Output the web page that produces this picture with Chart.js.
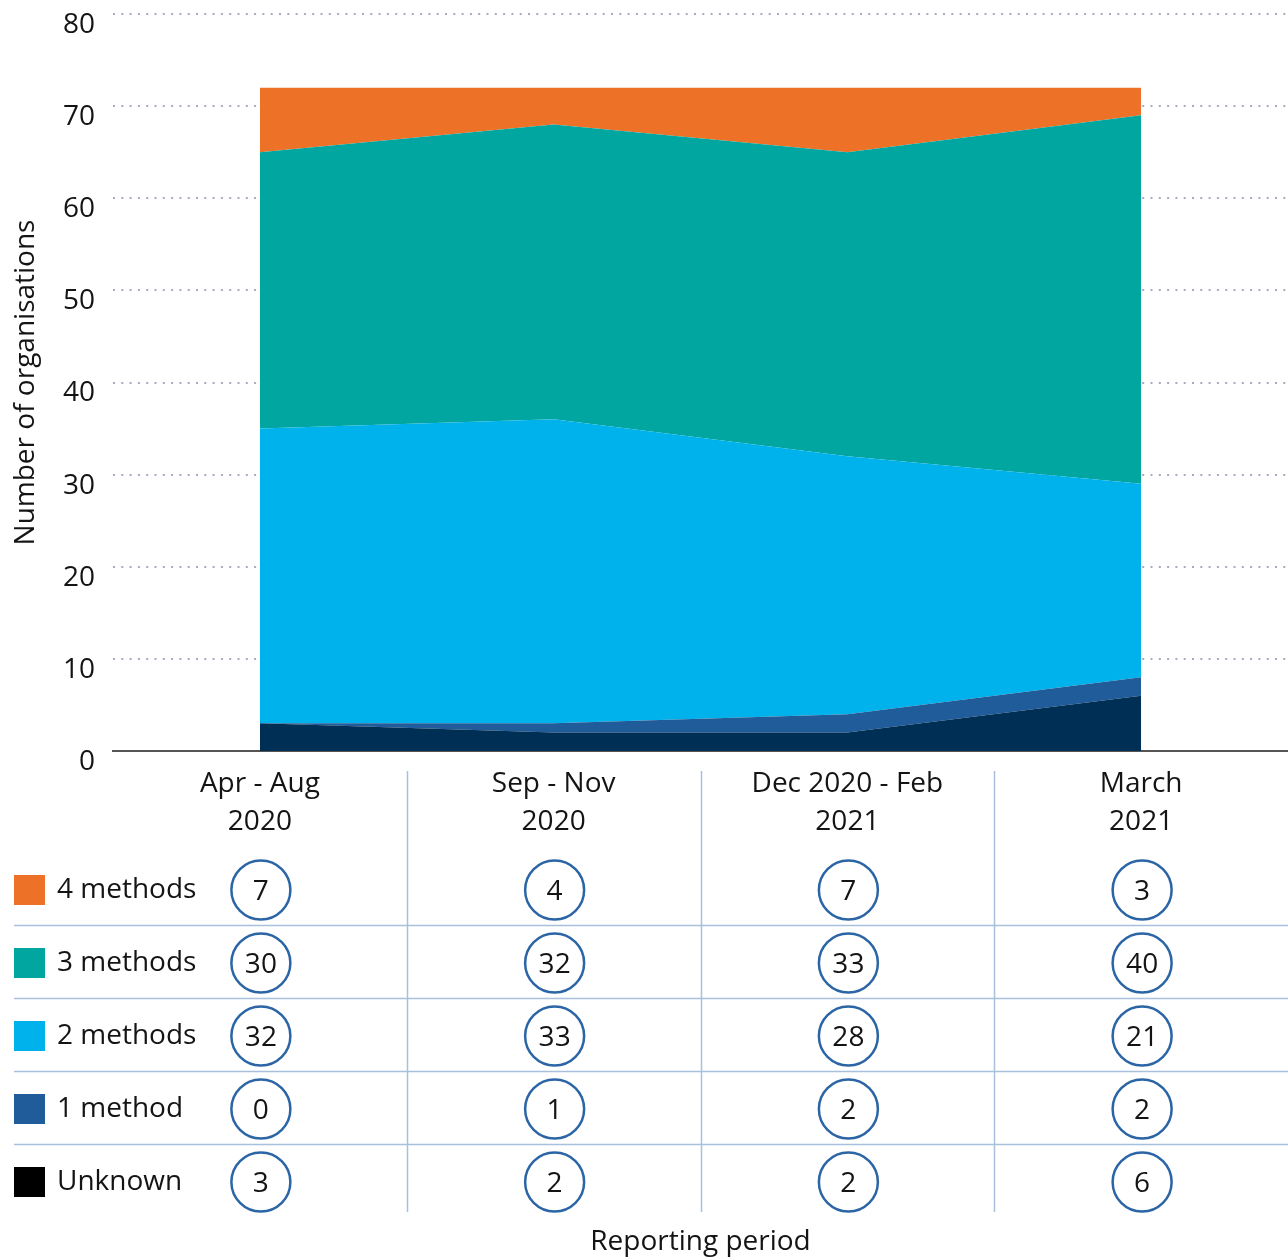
<!DOCTYPE html>
<html>
<head>
<meta charset="utf-8">
<script src="https://cdn.jsdelivr.net/npm/chart.js@4/dist/chart.umd.min.js"></script>
<style>
  html, body { margin: 0; padding: 0; background: #fff; }
  #wrap { width: 1288px; height: 1258px; }
</style>
</head>
<body>
<div id="wrap"><canvas id="c" width="1288" height="1258"></canvas></div>
<script>
// Reporting periods (x categories, two-line labels)
const periods = [
  ['Apr - Aug', '2020'],
  ['Sep - Nov', '2020'],
  ['Dec 2020 - Feb', '2021'],
  ['March', '2021']
];

// Number of organisations by number of methods used
const fourMethods  = [7, 4, 7, 3];
const threeMethods = [30, 32, 33, 40];
const twoMethods   = [32, 33, 28, 21];
const oneMethod    = [0, 1, 2, 2];
const unknown      = [3, 2, 2, 6];

// Series names, listed top row first
const seriesNames = ['4 methods', '3 methods', '2 methods', '1 method', 'Unknown'];

const yTicks = [0, 10, 20, 30, 40, 50, 60, 70, 80];

const FONT = "'Open Sans', 'Noto Sans', sans-serif";
const TEXT = '#141414';

const colors = {
  '4 methods': '#ee7128',
  '3 methods': '#00a69f',
  '2 methods': '#00b2ec',
  '1 method':  '#1f5c99',
  'Unknown':   '#002f56'
};
const swatch = {
  '4 methods': '#ee7128',
  '3 methods': '#00a69f',
  '2 methods': '#00b2ec',
  '1 method':  '#1f5c99',
  'Unknown':   '#000000'
};

const valuesByName = {
  '4 methods': fourMethods,
  '3 methods': threeMethods,
  '2 methods': twoMethods,
  '1 method':  oneMethod,
  'Unknown':   unknown
};

// stacked from the bottom up
const stackOrder = ['Unknown', '1 method', '2 methods', '3 methods', '4 methods'];
const datasets = stackOrder.map((name, i) => ({
  label: name,
  data: valuesByName[name],
  backgroundColor: colors[name],
  borderWidth: 0,
  pointRadius: 0,
  pointHoverRadius: 0,
  tension: 0,
  fill: i === 0 ? 'origin' : '-1'
}));

// Table of values under the plot: swatches, names, circled counts, rules
const tablePlugin = {
  id: 'valueTable',
  afterDraw(chart) {
    const ctx = chart.ctx;
    const x = chart.scales.x;
    const base = chart.chartArea.bottom;      // y of the zero line
    const rowStart = base + 139;              // centre of first row
    const rowGap = 73;
    const half = (x.getPixelForValue(1) - x.getPixelForValue(0)) / 2;
    const ruleColor = '#a9c0dc';

    ctx.save();
    // horizontal rules between rows
    ctx.strokeStyle = ruleColor;
    ctx.lineWidth = 1.5;
    for (let r = 0; r < seriesNames.length - 1; r++) {
      const y = Math.round(base + 174 + rowGap * r) + 0.5;
      ctx.beginPath();
      ctx.moveTo(14, y);
      ctx.lineTo(chart.width, y);
      ctx.stroke();
    }
    // vertical rules between periods
    for (let i = 0; i < periods.length - 1; i++) {
      const xx = Math.round(x.getPixelForValue(i) + half) + 0.5;
      ctx.beginPath();
      ctx.moveTo(xx, base + 20);
      ctx.lineTo(xx, base + 461);
      ctx.stroke();
    }

    seriesNames.forEach((name, r) => {
      const cy = rowStart + rowGap * r;
      // swatch
      ctx.fillStyle = swatch[name];
      ctx.fillRect(14, cy - 15, 31, 30);
      // name
      ctx.fillStyle = TEXT;
      ctx.font = '28px ' + FONT;
      ctx.textAlign = 'left';
      ctx.textBaseline = 'middle';
      ctx.fillText(name, 57, cy);
      // circled values
      valuesByName[name].forEach((v, i) => {
        const cx = x.getPixelForValue(i) + 1;
        ctx.beginPath();
        ctx.arc(cx, cy, 29.5, 0, Math.PI * 2);
        ctx.fillStyle = '#fff';
        ctx.fill();
        ctx.lineWidth = 2.5;
        ctx.strokeStyle = '#2b65a5';
        ctx.stroke();
        ctx.fillStyle = TEXT;
        ctx.textAlign = 'center';
        ctx.fillText(String(v), cx, cy + 2);
      });
    });
    ctx.restore();
  }
};

new Chart(document.getElementById('c'), {
  type: 'line',
  data: { labels: periods, datasets },
  plugins: [tablePlugin],
  options: {
    responsive: false,
    animation: false,
    devicePixelRatio: 1,
    layout: { padding: { top: 14, left: 0, right: 0, bottom: 0 } },
    plugins: {
      legend: { display: false },
      tooltip: { enabled: false },
      filler: { propagate: false }
    },
    interaction: { mode: null },
    scales: {
      x: {
        type: 'category',
        offset: true,
        grid: { display: false, drawTicks: false },
        border: { display: true, color: '#555555', width: 2 },
        ticks: {
          padding: 14,
          maxRotation: 0,
          autoSkip: false,
          color: TEXT,
          font: { family: FONT, size: 28, lineHeight: 38 / 28 }
        },
        title: {
          display: true,
          text: 'Reporting period',
          color: TEXT,
          padding: { top: 0, bottom: 0 },
          font: { family: FONT, size: 28, lineHeight: 1.15 }
        },
        afterFit(scale) {
          scale.height = 507;
          scale.paddingLeft = 0;
          scale.paddingRight = 0;
        }
      },
      y: {
        stacked: true,
        min: 0,
        max: 80,
        afterBuildTicks(scale) {
          scale.ticks = yTicks.map(v => ({ value: v }));
        },
        grid: {
          drawTicks: false,
          color: '#a7abc0',
          lineWidth: 2
        },
        border: { display: false, dash: [2, 6.3] },
        ticks: {
          padding: 18,
          labelOffset: 11,
          color: TEXT,
          font: { family: FONT, size: 28 }
        },
        title: {
          display: true,
          text: 'Number of organisations',
          color: TEXT,
          padding: { top: 9, bottom: 0 },
          font: { family: FONT, size: 28, lineHeight: 1.2 }
        },
        afterFit(scale) {
          scale.width = 113;
          scale.paddingTop = 0;
          scale.paddingBottom = 0;
        }
      }
    }
  }
});
</script>
</body>
</html>
